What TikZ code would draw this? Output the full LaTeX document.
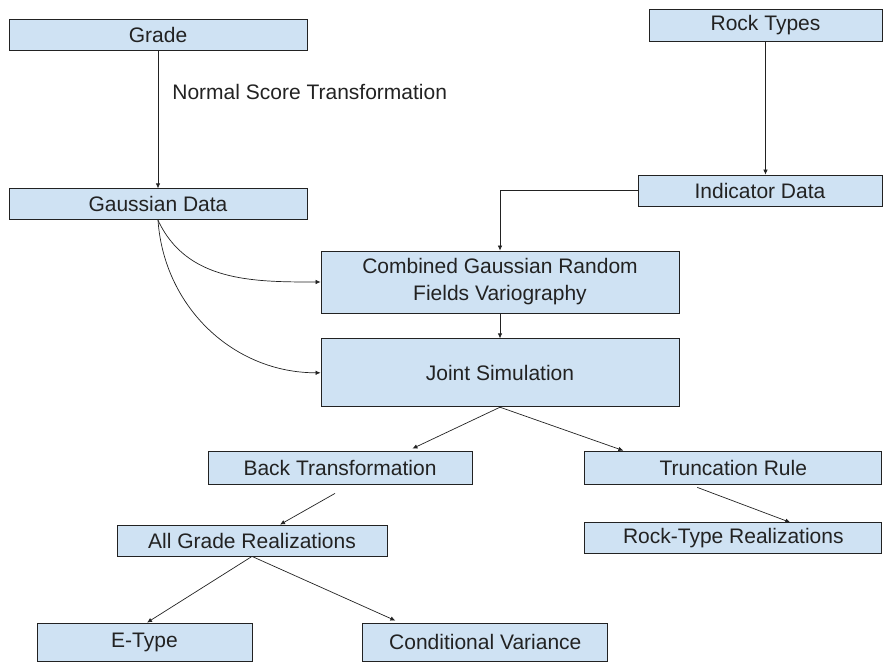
\documentclass[tikz,border=0pt]{standalone}
\usepackage{fontspec}
\setmainfont{Liberation Sans}
\usetikzlibrary{positioning,arrows.meta}
\definecolor{boxblue}{HTML}{CFE2F3}
\definecolor{ink}{HTML}{222222}

\begin{document}
\begin{tikzpicture}[x=1pt, y=-1pt, >={Latex[length=5pt,width=4.5pt]},
	box/.style={draw=ink, fill=boxblue, line width=0.8pt, inner sep=0pt, align=center, text=ink, font=\fontsize{21}{27}\selectfont},
	flow/.style={->, draw=ink, line width=0.7pt}]
	\useasboundingbox (0,0) rectangle (886,662);

	% left column: grade data
	\node[box, minimum width=298pt, minimum height=31pt] (grade) at (158,34.5) {Grade};
	\node[box, minimum width=298pt, minimum height=31pt, below=138pt of grade] (gauss) {Gaussian Data};

	% right column: rock types
	\node[box, minimum width=233pt, minimum height=32pt] (rock) at (765.5,25) {Rock Types};
	\node[box, minimum width=244pt, minimum height=31pt] (indic) at (760,190.5) {Indicator Data};

	% middle
	\node[box, minimum width=358pt, minimum height=62pt] (comb) at (500,282) {Combined Gaussian Random\\Fields Variography};
	\node[box, minimum width=358pt, minimum height=68pt, below=25pt of comb] (joint) {Joint Simulation};

	% outputs
	\node[box, minimum width=264pt, minimum height=33pt] (back) at (340,467.5) {Back Transformation};
	\node[box, minimum width=297pt, minimum height=33pt, right=112pt of back] (trunc) {Truncation Rule};
	\node[box, minimum width=297pt, minimum height=31pt, below=38pt of trunc] (rockr) {Rock-Type Realizations};
	\node[box, minimum width=270pt, minimum height=31pt] (allg) at (252,540.5) {All Grade Realizations};
	\node[box, minimum width=215pt, minimum height=38pt] (etype) at (144.5,642) {E-Type};
	\node[box, minimum width=245pt, minimum height=38pt, right=110pt of etype] (condv) {Conditional Variance};

	\draw[flow] (grade) -- (gauss)
		node[pos=0.3, right=14pt, inner sep=0pt, text=ink, font=\fontsize{21}{27}\selectfont] (nst) {Normal Score Transformation};
	\draw[flow] (rock.south) -- (rock.south |- indic.north);
	\draw[flow] (indic.west) -| (comb.north);
	\draw[flow] (gauss.south) to[out=-65, in=180] (comb.west);
	\draw[flow] (gauss.south) to[out=-86, in=180] (joint.west);
	\draw[flow] (comb) -- (joint);
	\draw[flow] (joint.south) -- ([shift={(-60,-2)}]back.north east);
	\draw[flow] (joint.south) -- ([shift={(39,0)}]trunc.north west);
	\draw[flow] ([shift={(-36,3)}]trunc.south) -- ([shift={(57,0)}]rockr.north);
	\draw[flow] ([shift={(-5,9)}]back.south) -- ([shift={(28,0)}]allg.north);
	\draw[flow] (allg.south) -- ([shift={(2.5,0)}]etype.north);
	\draw[flow] (allg.south) -- ([shift={(33,-2)}]condv.north west);
\end{tikzpicture}
\end{document}
